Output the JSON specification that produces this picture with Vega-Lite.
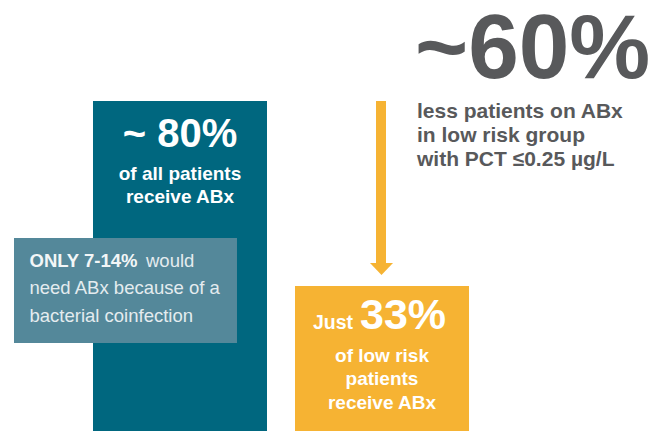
{
  "$schema": "https://vega.github.io/schema/vega-lite/v6.json",
  "width": 665,
  "height": 431,
  "padding": 0,
  "autosize": {"type": "none"},
  "background": "#ffffff",
  "config": {"view": {"stroke": null}, "font": "Liberation Sans"},
  "datasets": {
    "bars": [
      {"group": "All patients", "share": 80, "headline": "~ 80%", "caption": ["of all patients", "receive ABx"]},
      {"group": "Low risk patients", "share": 33, "prefix": "Just", "headline": "33%", "caption": ["of low risk", "patients", "receive ABx"]}
    ],
    "note": [
      {"group": "All patients", "share": 80, "lead": "ONLY 7-14%", "tail": "would", "rest": ["need ABx because of a", "bacterial coinfection"]}
    ],
    "change": [
      {"group": "Low risk patients", "from": 80, "to": 33, "label": "~60%", "caption": ["less patients on ABx", "in low risk group", "with PCT ≤0.25 µg/L"]}
    ]
  },
  "layer": [
    {
      "data": {"name": "bars"},
      "mark": {"type": "bar"},
      "encoding": {
        "x": {"field": "group", "type": "nominal", "axis": null, "sort": null,
              "scale": {"domain": ["All patients", "Low risk patients"], "paddingInner": 0.1386, "paddingOuter": 0.7153, "align": 0.3218}},
        "y": {"field": "share", "type": "quantitative", "axis": null,
              "scale": {"type": "pow", "exponent": 0.929, "domain": [0, 106.6], "nice": false}},
        "color": {"field": "group", "type": "nominal", "legend": null,
                  "scale": {"domain": ["All patients", "Low risk patients"], "range": ["#00677f", "#f6b333"]}}
      }
    },
    {
      "data": {"name": "note"},
      "mark": {"type": "rect", "width": 223, "xOffset": -54.5, "yOffset": 137, "y2Offset": 242, "color": "#54889a", "opacity": 1},
      "encoding": {
        "x": {"field": "group", "type": "nominal", "axis": null},
        "y": {"field": "share", "type": "quantitative", "axis": null},
        "y2": {"field": "share"}
      }
    },
    {
      "data": {"name": "note"},
      "mark": {"type": "text", "align": "left", "baseline": "alphabetic", "dx": -150.5, "dy": 165.7, "fontSize": 18.5, "fontWeight": "bold", "color": "#f2f6f7"},
      "encoding": {
        "x": {"field": "group", "type": "nominal", "axis": null},
        "y": {"field": "share", "type": "quantitative", "axis": null},
        "text": {"field": "lead"}
      }
    },
    {
      "data": {"name": "note"},
      "mark": {"type": "text", "align": "left", "baseline": "alphabetic", "dx": -34, "dy": 165.7, "fontSize": 18.5, "color": "#e4ecef"},
      "encoding": {
        "x": {"field": "group", "type": "nominal", "axis": null},
        "y": {"field": "share", "type": "quantitative", "axis": null},
        "text": {"field": "tail"}
      }
    },
    {
      "data": {"name": "note"},
      "mark": {"type": "text", "align": "left", "baseline": "alphabetic", "dx": -150.5, "dy": 193.3, "lineHeight": 27.5, "fontSize": 18.5, "color": "#e4ecef"},
      "encoding": {
        "x": {"field": "group", "type": "nominal", "axis": null},
        "y": {"field": "share", "type": "quantitative", "axis": null},
        "text": {"field": "rest"}
      }
    },
    {
      "data": {"name": "bars"},
      "transform": [{"filter": "datum.group === 'All patients'"}],
      "mark": {"type": "text", "align": "center", "baseline": "alphabetic", "dy": 46, "fontSize": 40, "fontWeight": "bold", "color": "#ffffff"},
      "encoding": {
        "x": {"field": "group", "type": "nominal", "axis": null},
        "y": {"field": "share", "type": "quantitative", "axis": null},
        "text": {"field": "headline"}
      }
    },
    {
      "data": {"name": "bars"},
      "transform": [{"filter": "datum.group === 'All patients'"}],
      "mark": {"type": "text", "align": "center", "baseline": "alphabetic", "dy": 79, "lineHeight": 23, "fontSize": 19, "fontWeight": "bold", "color": "#ffffff"},
      "encoding": {
        "x": {"field": "group", "type": "nominal", "axis": null},
        "y": {"field": "share", "type": "quantitative", "axis": null},
        "text": {"field": "caption"}
      }
    },
    {
      "data": {"name": "bars"},
      "transform": [{"filter": "datum.group === 'Low risk patients'"}],
      "mark": {"type": "text", "align": "right", "baseline": "alphabetic", "dx": -29, "dy": 43, "fontSize": 19.5, "fontWeight": "bold", "color": "#ffffff"},
      "encoding": {
        "x": {"field": "group", "type": "nominal", "axis": null},
        "y": {"field": "share", "type": "quantitative", "axis": null},
        "text": {"field": "prefix"}
      }
    },
    {
      "data": {"name": "bars"},
      "transform": [{"filter": "datum.group === 'Low risk patients'"}],
      "mark": {"type": "text", "align": "left", "baseline": "alphabetic", "dx": -22, "dy": 43, "fontSize": 43, "fontWeight": "bold", "color": "#ffffff"},
      "encoding": {
        "x": {"field": "group", "type": "nominal", "axis": null},
        "y": {"field": "share", "type": "quantitative", "axis": null},
        "text": {"field": "headline"}
      }
    },
    {
      "data": {"name": "bars"},
      "transform": [{"filter": "datum.group === 'Low risk patients'"}],
      "mark": {"type": "text", "align": "center", "baseline": "alphabetic", "dy": 76, "lineHeight": 23.5, "fontSize": 19, "fontWeight": "bold", "color": "#ffffff"},
      "encoding": {
        "x": {"field": "group", "type": "nominal", "axis": null},
        "y": {"field": "share", "type": "quantitative", "axis": null},
        "text": {"field": "caption"}
      }
    },
    {
      "data": {"name": "change"},
      "mark": {"type": "rule", "strokeWidth": 10, "color": "#f6b333", "strokeCap": "butt", "y2Offset": -23, "xOffset": -1},
      "encoding": {
        "x": {"field": "group", "type": "nominal", "axis": null},
        "y": {"field": "from", "type": "quantitative", "axis": null},
        "y2": {"field": "to"}
      }
    },
    {
      "data": {"name": "change"},
      "mark": {"type": "point", "shape": "M-1,-0.52L1,-0.52L0,0.52Z", "size": 529, "filled": true, "opacity": 1, "color": "#f6b333", "yOffset": -17, "xOffset": -0.5},
      "encoding": {
        "x": {"field": "group", "type": "nominal", "axis": null},
        "y": {"field": "to", "type": "quantitative", "axis": null}
      }
    },
    {
      "data": {"name": "change"},
      "mark": {"type": "text", "align": "left", "baseline": "alphabetic", "dx": 33, "dy": -23, "fontSize": 91, "fontWeight": "bold", "color": "#58595b"},
      "encoding": {
        "x": {"field": "group", "type": "nominal", "axis": null},
        "y": {"field": "from", "type": "quantitative", "axis": null},
        "text": {"field": "label"}
      }
    },
    {
      "data": {"name": "change"},
      "mark": {"type": "text", "align": "left", "baseline": "alphabetic", "dx": 35, "dy": 17, "lineHeight": 24, "fontSize": 21, "fontWeight": "bold", "color": "#58595b"},
      "encoding": {
        "x": {"field": "group", "type": "nominal", "axis": null},
        "y": {"field": "from", "type": "quantitative", "axis": null},
        "text": {"field": "caption"}
      }
    }
  ]
}
